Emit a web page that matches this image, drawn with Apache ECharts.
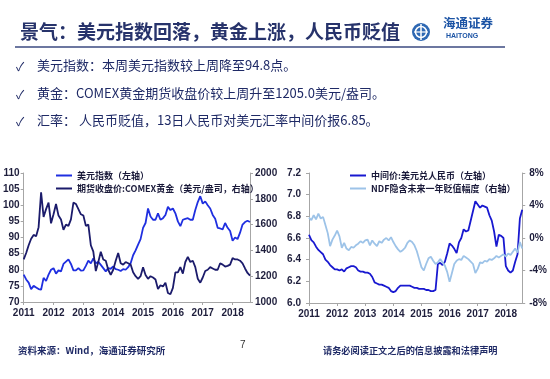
<!DOCTYPE html>
<html><head><meta charset="utf-8">
<script src="https://cdn.jsdelivr.net/npm/echarts@6/dist/echarts.min.js"></script>
<style>html,body{margin:0;padding:0;background:#fff}#c{width:550px;height:379px}</style>
</head><body><div id="c"></div>
<script>
// ---- categories (monthly, 2011-01 .. 2018-08) ----
const years = [2011, 2012, 2013, 2014, 2015, 2016, 2017, 2018];
const lastMonth2018 = 8;
const categories = [];
years.forEach(y => { const n = y === 2018 ? lastMonth2018 : 12; for (let m = 1; m <= n; m++) categories.push(y + '-' + (m < 10 ? '0' + m : m)); });

// ---- left chart: 美元指数 (left axis) ----
const usdIndex = [
  78.5, 77.0, 76.0, 74.0, 75.0, 74.5, 74.0, 73.8, 77.5, 76.5, 78.5, 80.0,
  80.5, 78.8, 79.8, 79.5, 81.8, 82.5, 83.2, 81.8, 79.8, 79.8, 80.5, 79.7,
  79.8, 81.2, 82.8, 82.0, 83.5, 82.0, 82.5, 81.5, 80.5, 79.5, 80.5, 80.3,
  81.0, 80.2, 80.0, 79.6, 80.2, 80.0, 80.8, 82.0, 84.5, 86.0, 87.8, 89.5,
  93.0, 94.5, 99.0, 96.5, 95.5, 95.5, 97.5, 95.5, 96.0, 97.0, 99.5, 98.5,
  99.0, 97.5, 95.0, 93.5, 95.5, 95.8, 96.0, 95.5, 95.5, 98.5, 101.0, 102.8,
  100.5, 101.2, 100.0, 99.0, 97.0, 95.8, 93.0, 92.8, 92.5, 94.5, 93.0, 92.0,
  89.0, 90.0, 89.5, 91.5, 94.0, 94.8, 95.2, 94.8
];
// ---- left chart: COMEX 黄金 (right axis) ----
const goldPrice = [
  1330, 1380, 1440, 1490, 1520, 1510, 1580, 1850, 1660, 1720, 1770, 1610,
  1680, 1760, 1670, 1640, 1560, 1600, 1590, 1640, 1770, 1760, 1720, 1680,
  1670, 1590, 1600, 1440, 1390, 1240, 1310, 1390, 1330, 1320, 1250, 1210,
  1250, 1320, 1380, 1300, 1290, 1310, 1300, 1290, 1230, 1200, 1180, 1200,
  1270, 1210, 1180, 1200, 1190, 1175, 1100, 1130, 1120, 1150, 1070, 1060,
  1110, 1230, 1230, 1270, 1220, 1310, 1350, 1310, 1320, 1270, 1180, 1150,
  1190, 1240, 1250, 1270, 1260, 1250, 1250, 1300, 1290, 1275, 1280, 1290,
  1340, 1330, 1330, 1320, 1300, 1260, 1225, 1205
];
// ---- right chart: 中间价 美元兑人民币 (left axis) ----
const cnyMid = [
  6.63, 6.58, 6.56, 6.52, 6.49, 6.47, 6.45, 6.40, 6.38, 6.35, 6.33, 6.31,
  6.31, 6.30, 6.31, 6.29, 6.32, 6.33, 6.34, 6.34, 6.33, 6.30, 6.29, 6.29,
  6.28, 6.28, 6.27, 6.24, 6.19, 6.18, 6.17, 6.17, 6.16, 6.15, 6.14, 6.11,
  6.10, 6.11, 6.14, 6.16, 6.16, 6.16, 6.16, 6.16, 6.15, 6.14, 6.14, 6.13,
  6.13, 6.13, 6.12, 6.12, 6.11, 6.11, 6.12, 6.36, 6.37, 6.35, 6.38, 6.46,
  6.55, 6.53, 6.50, 6.46, 6.56, 6.60, 6.68, 6.66, 6.67, 6.76, 6.85, 6.94,
  6.91, 6.88, 6.90, 6.89, 6.88, 6.81, 6.76, 6.66, 6.52, 6.63, 6.62, 6.60,
  6.34, 6.30, 6.28, 6.30, 6.38, 6.45, 6.78, 6.86
];
// ---- right chart: NDF 隐含未来一年贬值幅度 % (right axis) ----
const ndfDepr = [
  2.5, 2.2, 2.8, 2.3, 3.0, 2.4, 2.6, 1.6, 0.6, -1.0, -0.2, 0.3,
  0.9, 0.2, -1.2, -0.6, -1.3, -1.5, -1.1, -1.2, -0.9, -0.7, -0.4, -0.6,
  -0.3, -0.2, -0.9, -0.3, -0.7, -1.0, -0.4, -0.6, -0.2, 0.0, -0.3, 0.1,
  -0.5, -1.0, -1.4, -1.7, -1.5, -1.2, -0.6, -0.3, -0.5, -0.9, -1.6, -2.6,
  -3.6, -4.0, -3.2, -2.5, -2.3, -2.8, -3.2, -3.0, -2.6, -3.0, -3.4, -4.2,
  -5.4, -4.3, -3.2, -2.8, -2.6, -2.7, -2.2, -2.4, -2.6, -2.9, -3.2, -4.3,
  -3.8, -3.0, -3.1, -2.8, -2.9, -2.6, -2.7, -2.5, -2.2, -2.4, -2.2, -2.0,
  -2.3, -1.9, -2.1, -1.7, -1.3, -1.8, -0.5, -1.3
];

const seriesNames = ['美元指数（左轴）', '期货收盘价:COMEX黄金（美元/盎司，右轴）', '中间价:美元兑人民币（左轴）', 'NDF隐含未来一年贬值幅度（右轴）'];
const titleText = '景气：美元指数回落，黄金上涨，人民币贬值';
const bullets = ['美元指数：本周美元指数较上周降至94.8点。', '黄金：COMEX黄金期货收盘价较上周升至1205.0美元/盎司。', '汇率： 人民币贬值，13日人民币对美元汇率中间价报6.85。'];
const sourceText = '资料来源：Wind，海通证券研究所';
const disclaimer = '请务必阅读正文之后的信息披露和法律声明';
const pageNo = '7';

const NAVY = '#1f2a66';
const CJK = '"Noto Sans CJK SC", "Liberation Sans", sans-serif';
const NUM = '"Liberation Sans", Arial, sans-serif';
const axisLine = { show: true, onZero: false, lineStyle: { color: '#a6a6a6', width: 1 } };
const tick = { show: true, length: 3, lineStyle: { color: '#a6a6a6' } };
const lbl = { color: '#1e1e3c', fontSize: 10, fontWeight: 'bold', fontFamily: NUM };
const isJan = (i, v) => String(categories[i]).slice(5) === '01';

function xAx(g) {
  return { type: 'category', gridIndex: g, data: categories, boundaryGap: false,
    axisLine, axisTick: { show: true, length: 3, interval: isJan, lineStyle: { color: '#a6a6a6' } },
    axisLabel: Object.assign({ interval: isJan, margin: 6, formatter: v => v.slice(0, 4) }, lbl),
    splitLine: { show: false } };
}
function yAx(g, pos, min, max, interval, fmt, margin) {
  return { type: 'value', gridIndex: g, position: pos, min, max, interval,
    axisLine, axisTick: tick, splitLine: { show: false },
    axisLabel: Object.assign({ margin, formatter: fmt }, lbl) };
}

const chart = echarts.init(document.getElementById('c'), null, { renderer: 'canvas' });
const T = (x, y, text, size, fill, weight, extra) => Object.assign({ type: 'text', left: x, top: y, silent: true,
  style: { text, fontSize: size, fill, fontWeight: weight || 'normal', fontFamily: CJK } }, extra || {});

chart.setOption({
  animation: false,
  backgroundColor: '#ffffff',
  grid: [
    { left: 23, top: 173, width: 227, height: 129 },
    { left: 309, top: 173, width: 215, height: 130 }
  ],
  legend: [
    { orient: 'vertical', left: 51, top: 166, itemWidth: 16, itemHeight: 2, itemGap: 4, icon: 'rect',
      data: [seriesNames[0], seriesNames[1]], textStyle: { fontSize: 9, color: '#1a1a3a', fontWeight: 'bold', fontFamily: CJK } },
    { orient: 'vertical', left: 345, top: 166, itemWidth: 16, itemHeight: 2, itemGap: 4, icon: 'rect',
      data: [seriesNames[2], seriesNames[3]], textStyle: { fontSize: 9, color: '#1a1a3a', fontWeight: 'bold', fontFamily: CJK } }
  ],
  xAxis: [xAx(0), xAx(1)],
  yAxis: [
    yAx(0, 'left', 70, 110, 5, v => v, 4),
    yAx(0, 'right', 1000, 2000, 200, v => v, 5),
    yAx(1, 'left', 6.0, 7.2, 0.2, v => v.toFixed(1), 8),
    yAx(1, 'right', -8, 8, 4, v => v + '%', 7)
  ],
  series: [
    { name: seriesNames[0], type: 'line', xAxisIndex: 0, yAxisIndex: 0, data: usdIndex, showSymbol: false, color: '#1f2fe0', lineStyle: { width: 1.8 } },
    { name: seriesNames[1], type: 'line', xAxisIndex: 0, yAxisIndex: 1, data: goldPrice, showSymbol: false, color: '#1b1b6b', lineStyle: { width: 1.8 } },
    { name: seriesNames[2], type: 'line', xAxisIndex: 1, yAxisIndex: 2, data: cnyMid, showSymbol: false, color: '#1818d0', lineStyle: { width: 1.8 } },
    { name: seriesNames[3], type: 'line', xAxisIndex: 1, yAxisIndex: 3, data: ndfDepr, showSymbol: false, color: '#9dc3e8', lineStyle: { width: 1.8 } }
  ],
  graphic: [
    T(20, 22, titleText, 19, '#27336b', 'bold'),
    { type: 'line', silent: true, shape: { x1: 15, y1: 47, x2: 505, y2: 47 }, style: { stroke: '#3b4a80', lineWidth: 1.5 } },
    // logo
    { type: 'circle', silent: true, shape: { cx: 421, cy: 32, r: 9 }, style: { fill: '#2e68b3' } },
    { type: 'circle', silent: true, shape: { cx: 421, cy: 32, r: 5.5 }, style: { fill: 'none', stroke: '#fff', lineWidth: 1.5 } },
    { type: 'line', silent: true, shape: { x1: 421, y1: 24, x2: 421, y2: 40 }, style: { stroke: '#fff', lineWidth: 1.5 } },
    { type: 'line', silent: true, shape: { x1: 414, y1: 32, x2: 428, y2: 32 }, style: { stroke: '#fff', lineWidth: 1.2 } },
    T(443, 17, '海通证券', 12.5, '#1c54a5', 'bold'),
    { type: 'text', left: 446, top: 33, silent: true, style: { text: 'HAITONG', fontSize: 7, fill: '#1c54a5', fontWeight: 'bold', fontFamily: NUM } },
    // bullets
    T(16, 60, '✓', 12, NAVY, 'normal'),
    T(37, 59, bullets[0], 13, NAVY, 'normal'),
    T(16, 88, '✓', 12, NAVY, 'normal'),
    T(37, 87, bullets[1], 13, NAVY, 'normal'),
    T(16, 115, '✓', 12, NAVY, 'normal'),
    T(37, 114, bullets[2], 13, NAVY, 'normal'),
    // footer
    T(18, 346, sourceText, 9.5, NAVY, 'bold'),
    { type: 'text', left: 240, top: 340, silent: true, style: { text: pageNo, fontSize: 10, fill: '#333', fontFamily: NUM } },
    T(323, 346, disclaimer, 9.2, NAVY, 'bold')
  ]
});
</script></body></html>
